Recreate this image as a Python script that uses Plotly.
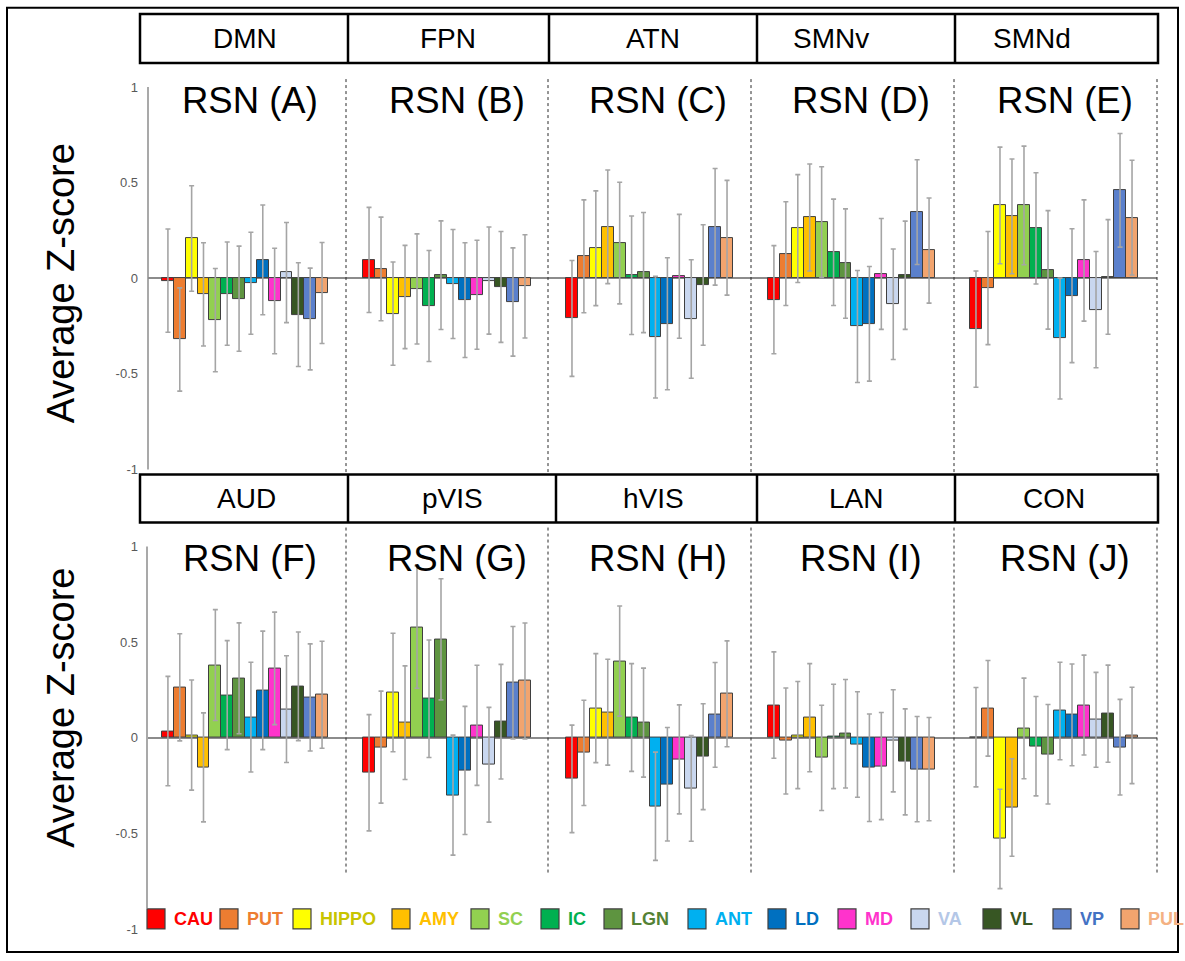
import plotly.graph_objects as go
from plotly.subplots import make_subplots

W, H = 1185, 961
Y0, YSPAN = 8, 945  # photographed vertical placement of the page

categories = ["CAU", "PUT", "HIPPO", "AMY", "SC", "IC", "LGN", "ANT", "LD", "MD", "VA", "VL", "VP", "PUL"]
bar_colors = ["#FF0000", "#ED7D31", "#FFFF00", "#FFC000", "#92D050", "#00B050", "#5E9440",
              "#00B0F0", "#0070C0", "#FF33CC", "#C9D7EF", "#375623", "#5B80CC", "#F2A46E"]
label_colors = ["#FF0000", "#ED7D31", "#C8C400", "#FFC000", "#92D050", "#00B050", "#548235",
                "#00B0F0", "#0070C0", "#FF33CC", "#B4C7E7", "#375623", "#4472C4", "#F4B183"]

networks_top = ["DMN", "FPN", "ATN", "SMNv", "SMNd"]
networks_bottom = ["AUD", "pVIS", "hVIS", "LAN", "CON"]
panel_titles = ["RSN (A)", "RSN (B)", "RSN (C)", "RSN (D)", "RSN (E)",
                "RSN (F)", "RSN (G)", "RSN (H)", "RSN (I)", "RSN (J)"]
y_ticks = [-1, -0.5, 0, 0.5, 1]
y_ticktext = ["-1", "-0.5", "0", "0.5", "1"]
y_title = "Average Z-score"

mean_A = [-0.012, -0.32, 0.208, -0.084, -0.219, -0.08, -0.107, -0.026, 0.096, -0.119, 0.03, -0.19, -0.213, -0.077]
sd_A = [0.27, 0.27, 0.276, 0.27, 0.27, 0.27, 0.275, 0.267, 0.287, 0.276, 0.262, 0.271, 0.266, 0.264]
mean_B = [0.096, 0.049, -0.185, -0.098, -0.056, -0.145, 0.016, -0.03, -0.114, -0.086, -0.012, -0.045, -0.124, -0.042]
sd_B = [0.275, 0.271, 0.27, 0.27, 0.288, 0.29, 0.284, 0.285, 0.3, 0.285, 0.28, 0.29, 0.283, 0.27]
mean_C = [-0.21, 0.115, 0.157, 0.269, 0.184, 0.016, 0.03, -0.308, -0.238, 0.01, -0.213, -0.035, 0.269, 0.212]
sd_C = [0.303, 0.295, 0.3, 0.297, 0.318, 0.31, 0.314, 0.318, 0.345, 0.324, 0.31, 0.315, 0.305, 0.3]
mean_D = [-0.112, 0.129, 0.26, 0.318, 0.294, 0.136, 0.077, -0.252, -0.238, 0.023, -0.136, 0.016, 0.346, 0.145]
sd_D = [0.283, 0.271, 0.282, 0.28, 0.289, 0.278, 0.286, 0.293, 0.3, 0.29, 0.289, 0.283, 0.274, 0.275]
mean_E = [-0.266, -0.051, 0.381, 0.324, 0.381, 0.261, 0.044, -0.315, -0.091, 0.093, -0.164, 0.007, 0.46, 0.317]
sd_E = [0.304, 0.296, 0.305, 0.3, 0.31, 0.291, 0.31, 0.316, 0.35, 0.317, 0.304, 0.3, 0.297, 0.3]
mean_F = [0.035, 0.264, 0.014, -0.155, 0.38, 0.223, 0.311, 0.108, 0.248, 0.363, 0.15, 0.269, 0.211, 0.225]
sd_F = [0.286, 0.28, 0.288, 0.285, 0.29, 0.285, 0.29, 0.287, 0.31, 0.294, 0.279, 0.284, 0.28, 0.28]
mean_G = [-0.183, -0.049, 0.237, 0.079, 0.579, 0.204, 0.515, -0.3, -0.171, 0.065, -0.141, 0.084, 0.288, 0.297]
sd_G = [0.304, 0.293, 0.31, 0.297, 0.32, 0.307, 0.317, 0.314, 0.335, 0.314, 0.3, 0.3, 0.294, 0.303]
mean_H = [-0.215, -0.079, 0.155, 0.134, 0.401, 0.106, 0.079, -0.358, -0.243, -0.113, -0.265, -0.099, 0.12, 0.23]
sd_H = [0.281, 0.275, 0.285, 0.277, 0.288, 0.282, 0.285, 0.283, 0.297, 0.285, 0.276, 0.277, 0.274, 0.277]
mean_I = [0.171, -0.017, 0.014, 0.105, -0.105, 0.007, 0.021, -0.035, -0.157, -0.148, -0.016, -0.126, -0.164, -0.164]
sd_I = [0.278, 0.277, 0.28, 0.283, 0.275, 0.273, 0.284, 0.276, 0.281, 0.28, 0.267, 0.277, 0.275, 0.27]
mean_J = [0.003, 0.154, -0.529, -0.365, 0.049, -0.044, -0.086, 0.14, 0.12, 0.171, 0.094, 0.126, -0.049, 0.012]
sd_J = [0.26, 0.25, 0.26, 0.255, 0.263, 0.26, 0.26, 0.255, 0.266, 0.261, 0.248, 0.254, 0.25, 0.252]

means = [mean_A, mean_B, mean_C, mean_D, mean_E, mean_F, mean_G, mean_H, mean_I, mean_J]
sds = [sd_A, sd_B, sd_C, sd_D, sd_E, sd_F, sd_G, sd_H, sd_I, sd_J]

FONT = "Liberation Sans, Arial, sans-serif"


def px(x):
    return x / W


def py(y):
    return 1 - (y - Y0) / YSPAN


# panel geometry in (target) pixels
col_edges = [148, 346, 548, 751, 954, 1157]
x_ranges = [(-1.68, 15.02), (-1.92, 14.92), (-2.01, 15.01), (-1.92, 15.09), (-1.83, 15.08)]
row_y = [(88, 470), (547, 929)]

fig = make_subplots(rows=2, cols=5, horizontal_spacing=0, vertical_spacing=0.05)

for i in range(10):
    r, c = i // 5, i % 5
    fig.add_trace(go.Bar(
        x=categories, y=means[i],
        marker=dict(color=bar_colors, line=dict(color="#3F3F3F", width=1)),
        error_y=dict(type="data", array=sds[i], color="#A5A5A5", thickness=1.6, width=2.5),
        showlegend=False, hoverinfo="x+y",
    ), row=r + 1, col=c + 1)
    idx = "" if i == 0 else str(i + 1)
    fig.layout["xaxis" + idx].update(
        domain=[px(col_edges[c]), px(col_edges[c + 1])],
        range=list(x_ranges[c]), visible=False, type="category",
    )
    fig.layout["yaxis" + idx].update(
        domain=[py(row_y[r][1]), py(row_y[r][0])],
        range=[-1, 1], showgrid=False, zeroline=True, zerolinecolor="#8C8C8C", zerolinewidth=1.5,
        showline=False, tickvals=y_ticks, ticktext=y_ticktext, showticklabels=(c == 0),
        tickfont=dict(family=FONT, size=13, color="#595959"),
        ticks="", ticklabelstandoff=9,
    )

shapes = []
annotations = []

# outer frame
shapes.append(dict(type="rect", xref="paper", yref="paper", x0=px(7), x1=px(1178), y0=py(8.8), y1=py(952),
                   line=dict(color="black", width=2)))

# header boxes
header_rows = [
    (15, 64, [140, 348, 549, 757, 955, 1158], networks_top, [245, 448, 653, 831, 1032]),
    (475, 523, [140, 348, 556, 757, 955, 1158], networks_bottom, [246, 452, 653, 856, 1054]),
]
for (y0, y1, edges, names, centers) in header_rows:
    shapes.append(dict(type="rect", xref="paper", yref="paper", x0=px(edges[0]), x1=px(edges[-1]),
                       y0=py(y1), y1=py(y0), line=dict(color="black", width=2.5)))
    for e in edges[1:-1]:
        shapes.append(dict(type="line", xref="paper", yref="paper", x0=px(e), x1=px(e),
                           y0=py(y1), y1=py(y0), line=dict(color="black", width=2.5)))
    for name, cx in zip(names, centers):
        annotations.append(dict(text=name, x=px(cx), y=py((y0 + y1) / 2), xref="paper", yref="paper",
                                showarrow=False, xanchor="center", yanchor="middle",
                                font=dict(family=FONT, size=28, color="black")))

# y axis lines
shapes.append(dict(type="line", xref="paper", yref="paper", x0=px(148), x1=px(148), y0=py(88), y1=py(470),
                   line=dict(color="#8C8C8C", width=1.5)))
shapes.append(dict(type="line", xref="paper", yref="paper", x0=px(147), x1=px(147), y0=py(547), y1=py(908),
                   line=dict(color="#8C8C8C", width=1.5)))

# dashed separators
for e in col_edges[1:]:
    shapes.append(dict(type="line", xref="paper", yref="paper", x0=px(e), x1=px(e), y0=py(80), y1=py(474),
                       line=dict(color="#2A2A2A", width=1, dash="3px,3px")))
    shapes.append(dict(type="line", xref="paper", yref="paper", x0=px(e), x1=px(e), y0=py(528), y1=py(875),
                       line=dict(color="#2A2A2A", width=1, dash="3px,3px")))

# panel titles
title_y = [101, 559]
for i, t in enumerate(panel_titles):
    r, c = i // 5, i % 5
    cx = [250, 457, 658, 861, 1065][c]
    annotations.append(dict(text=t, x=px(cx), y=py(title_y[r]), xref="paper", yref="paper",
                            showarrow=False, xanchor="center", yanchor="middle",
                            font=dict(family=FONT, size=36.5, color="black")))

# y titles
for yc in [284, 708]:
    annotations.append(dict(text=y_title, x=px(61), y=py(yc), xref="paper", yref="paper",
                            showarrow=False, textangle=-90, xanchor="center", yanchor="middle",
                            font=dict(family=FONT, size=38, color="black")))

# legend
sq_left = [147, 220, 293, 392, 471, 541, 604, 688, 768, 838, 911, 983, 1053, 1121]
for cat, col, lcol, sx in zip(categories, bar_colors, label_colors, sq_left):
    shapes.append(dict(type="rect", xref="paper", yref="paper", x0=px(sx), x1=px(sx + 18),
                       y0=py(929), y1=py(909), fillcolor=col, line=dict(color="#404040", width=1.2)))
    annotations.append(dict(text="<b>" + cat + "</b>", x=px(sx + 25), y=py(919), xref="paper", yref="paper",
                            showarrow=False, xanchor="left", yanchor="middle",
                            font=dict(family=FONT, size=18, color=lcol)))

fig.update_layout(
    width=W, height=H, autosize=False,
    margin=dict(l=0, r=0, t=0, b=0),
    paper_bgcolor="white", plot_bgcolor="rgba(0,0,0,0)",
    bargap=0, barmode="group",
    shapes=shapes, annotations=annotations,
    showlegend=False,
)

fig.write_html(
    "out.html",
    config={"displayModeBar": False},
    post_script="document.body.style.margin='0px';document.body.style.padding='0px';"
                "document.documentElement.style.overflow='hidden';",
)
